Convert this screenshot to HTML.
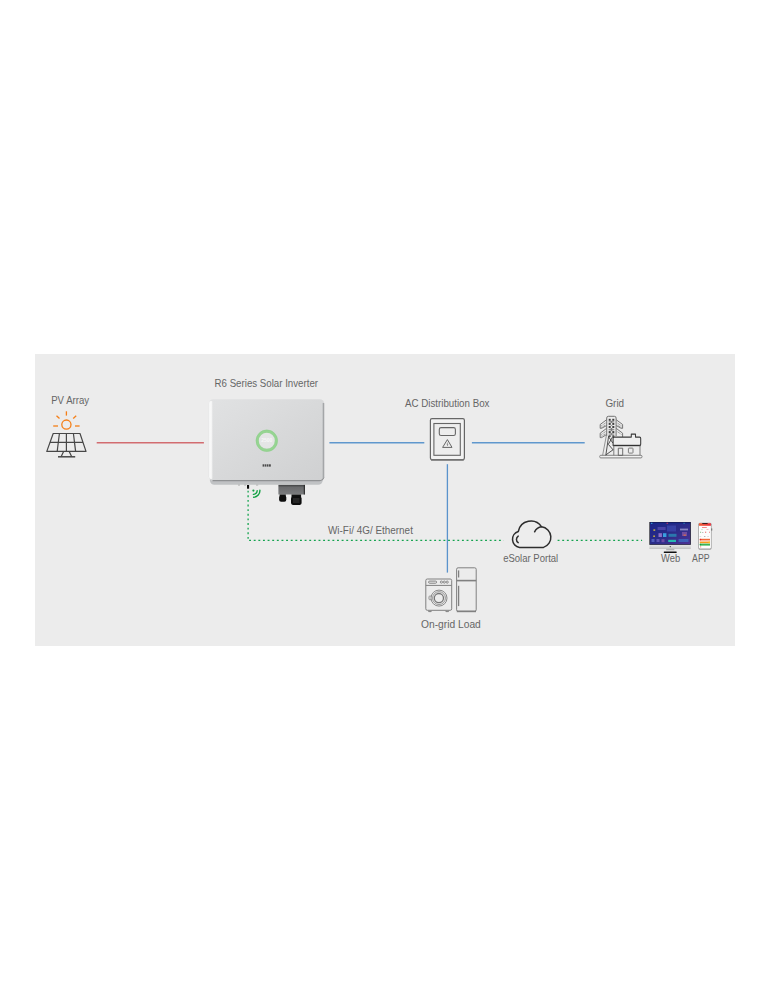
<!DOCTYPE html>
<html><head><meta charset="utf-8">
<style>
html,body{margin:0;padding:0;background:#fff;width:771px;height:1000px;overflow:hidden}
svg{position:absolute;left:0;top:0}
text{font-family:"Liberation Sans",sans-serif;font-size:10.5px;fill:#666}
</style></head><body>
<svg width="771" height="1000" viewBox="0 0 771 1000">
<rect x="35" y="354" width="700" height="292" fill="#ececec"/>

<!-- labels -->
<text x="70.15" y="404.2" text-anchor="middle" textLength="38" lengthAdjust="spacingAndGlyphs">PV Array</text>
<text x="266.3" y="386.6" text-anchor="middle" textLength="103.5" lengthAdjust="spacingAndGlyphs">R6 Series Solar Inverter</text>
<text x="447.2" y="407" text-anchor="middle" textLength="84.5" lengthAdjust="spacingAndGlyphs">AC Distribution Box</text>
<text x="614.75" y="406.6" text-anchor="middle" textLength="18.7" lengthAdjust="spacingAndGlyphs">Grid</text>
<text x="370.45" y="533.8" text-anchor="middle" textLength="84.9" lengthAdjust="spacingAndGlyphs">Wi-Fi/ 4G/ Ethernet</text>
<text x="530.7" y="561.9" text-anchor="middle" textLength="55" lengthAdjust="spacingAndGlyphs">eSolar Portal</text>
<text x="670.65" y="562.1" text-anchor="middle" textLength="19.1" lengthAdjust="spacingAndGlyphs">Web</text>
<text x="700.85" y="562.1" text-anchor="middle" textLength="17.5" lengthAdjust="spacingAndGlyphs">APP</text>
<text x="450.9" y="627.6" text-anchor="middle" textLength="59.8" lengthAdjust="spacingAndGlyphs">On-grid Load</text>

<!-- PV icon -->
<g fill="none" stroke="#f57f17" stroke-width="1.3" stroke-linecap="butt">
<circle cx="66.4" cy="424.6" r="4.6"/>
<line x1="66.4" y1="411.3" x2="66.4" y2="415.6"/>
<line x1="56.5" y1="415.8" x2="59.5" y2="418.6"/>
<line x1="76.2" y1="415.8" x2="73.2" y2="418.6"/>
<line x1="53.2" y1="426" x2="58" y2="426"/>
<line x1="75" y1="426" x2="79.6" y2="426"/>
</g>
<g fill="none" stroke="#474747" stroke-width="1.2" stroke-linejoin="round">
<path d="M53.2 433.5 H80 L86 451.4 H46.8 Z"/>
<line x1="49.9" y1="442.4" x2="83" y2="442.4"/>
<line x1="59.4" y1="433.5" x2="57.2" y2="451.4"/>
<line x1="66.4" y1="433.5" x2="66.4" y2="451.4"/>
<line x1="73.4" y1="433.5" x2="75.6" y2="451.4"/>
<path d="M63.6 451.4 L61.2 456.6 M69.2 451.4 L71.6 456.6"/>
<line x1="58" y1="456.8" x2="75.2" y2="456.8" stroke-width="1.5"/>
</g>

<!-- inverter -->
<defs>
<linearGradient id="face" x1="0" y1="0" x2="1" y2="1">
<stop offset="0" stop-color="#e1e2e3"/><stop offset="1" stop-color="#cfd0d1"/>
</linearGradient>
<linearGradient id="hl" x1="0" y1="0" x2="1" y2="0">
<stop offset="0" stop-color="#f4f5f5"/><stop offset="0.5" stop-color="#fafafa"/><stop offset="1" stop-color="#e2e3e4" stop-opacity="0"/>
</linearGradient>
<linearGradient id="cbox" x1="0" y1="0" x2="0" y2="1">
<stop offset="0" stop-color="#404142"/><stop offset="0.25" stop-color="#6a6b6d"/><stop offset="1" stop-color="#7b7c7e"/>
</linearGradient>
</defs>
<rect x="209.9" y="468" width="112.8" height="16.8" rx="4.5" fill="#c0c2c4"/>
<rect x="208.8" y="399.2" width="115.5" height="81.6" rx="4.5" fill="url(#face)"/>
<path d="M212.5 480.6 H319.5 Q323.2 480.6 323.8 477" fill="none" stroke="#8f9193" stroke-width="1.1"/>
<rect x="209" y="401" width="4.5" height="78" rx="2" fill="url(#hl)"/>
<rect x="322.7" y="403" width="1.5" height="75" fill="#a4a6a8"/>
<circle cx="266.8" cy="440.7" r="8" fill="#e4e5e5"/>
<circle cx="266.8" cy="440.7" r="9.5" fill="none" stroke="#96d492" stroke-width="2.9"/>
<circle cx="266.8" cy="440.7" r="10.8" fill="none" stroke="#86c882" stroke-width="0.4" opacity="0.7"/>
<text x="266.8" y="442" text-anchor="middle" style="font-size:5px;fill:#f7f7f7;font-weight:bold">2500</text>
<g fill="#333" opacity="0.85"><rect x="262.6" y="464.3" width="1.6" height="2.3"/><rect x="264.7" y="464.3" width="1.6" height="2.3"/><rect x="266.8" y="464.3" width="1.7" height="2.3"/><rect x="269" y="464.3" width="1.8" height="2.3"/></g>
<rect x="278.4" y="484.9" width="26.4" height="9.6" fill="url(#cbox)"/>
<rect x="303.8" y="484.9" width="1" height="9.6" fill="#1e1e1e"/>
<rect x="279.6" y="494.5" width="6.2" height="2" fill="#111"/>
<rect x="279.1" y="495.6" width="7.2" height="6.1" rx="2" fill="#0e0e0e"/>
<rect x="291.5" y="494.5" width="9.6" height="2.5" fill="#111"/>
<rect x="291" y="496.6" width="10.6" height="8.3" rx="1.8" fill="#0e0e0e"/>
<rect x="293" y="498" width="6.5" height="5" fill="#262626"/>
<rect x="247" y="485" width="2.1" height="3.7" fill="#0a0a0a"/>
<g fill="#8a8a8a" opacity="0.8"><rect x="238" y="484.8" width="2" height="0.6"/><rect x="244.3" y="484.8" width="1.6" height="0.6"/><rect x="256" y="484.8" width="2.2" height="0.6"/></g>
<circle cx="253.4" cy="490.6" r="1.1" fill="#12a243"/>
<path d="M257.2 490.6 A3.8 3.8 0 0 1 253.4 494.4 M259.9 490.3 A6.5 6.5 0 0 1 253.6 497.2" fill="none" stroke="#12a243" stroke-width="1.4" stroke-linecap="round"/>


<!-- AC box -->
<g fill="none" stroke="#666">
<rect x="430.4" y="418.7" width="34" height="41" rx="1.6" stroke-width="1.2" fill="#f2f2f2"/>
<line x1="431" y1="459.9" x2="463.8" y2="459.9" stroke-width="1.5" stroke="#777"/>
<rect x="433.9" y="423.5" width="26.4" height="31.8" stroke-width="1.1" fill="#ededed"/>
<rect x="439.3" y="427.6" width="16.1" height="7.9" rx="1.8" stroke-width="1.1"/>
<path d="M447.4 439.6 L452 447.4 H442.6 Z" stroke-width="1" stroke-linejoin="round"/>
<path d="M447.6 442.6 L447.1 444.6 L447.9 444.4 L447.3 446" stroke-width="0.6"/>
</g>


<!-- grid icon -->
<g fill="none" stroke="#5e5e5e" stroke-width="0.95" stroke-linejoin="round">
<rect x="599.7" y="455.3" width="42.3" height="2.6" rx="1.1" stroke="#7a7a7a" fill="#f1f1f1"/>
<path d="M606.7 436 V418 Q606.7 416.3 608.4 416.3 H614.4 Q616.1 416.3 616.1 418 V436" stroke="#6a6a6a"/>
<path d="M606.5 419.8 L600.2 424.5 V428.3 H601.6 L606.5 425.6 M616.3 419.8 L622.6 424.5 V428.3 H621.2 L616.3 425.6" stroke="#666" stroke-width="0.9"/>
<path d="M606.5 428.4 L600.2 433.2 V437.6 H601.6 L606.5 434.6 M616.3 428.4 L622.6 433.2 V437" stroke="#666" stroke-width="0.9"/>
<path d="M601.4 425.8 L605.8 422.8 M601.4 427.4 L605.8 425 M621.4 425.8 L617 422.8 M621.4 427.4 L617 425 M601.4 434.4 L605.8 431.4 M601.4 436.2 L605.8 433.6 M621.4 434.4 L617 431.4" stroke="#707070" stroke-width="0.85" stroke-dasharray="0.9 0.7"/>
<path d="M606.3 435.8 L602.6 455.4" stroke="#8a8a8a" stroke-width="0.9"/>
<path d="M608.7 435.8 L605.8 455.4 M612.6 436.9 L608.3 444.3 L613.3 450.1 M613.3 449.6 L606 454.8 M608.8 437 L612.8 443" stroke="#4a4a4a" stroke-width="0.95"/>
<path d="M613.1 445.5 V438.2 Q613.1 437.1 614.2 437.1 H631.3 V434.1 H635.5 V437.1 H639.6 Q640.7 437.1 640.7 438.4 V444.3 Q640.7 445.5 639.5 445.5 Z" fill="#efefef" stroke="#3a3a3a" stroke-width="1.05"/>
<line x1="613" y1="445.5" x2="640.6" y2="445.5" stroke-width="1.4" stroke="#333"/>
<path d="M613.8 445.6 V455.3 M640 445.6 V455.3" stroke="#777"/>
<rect x="618.3" y="448.2" width="4.4" height="7.2" stroke="#666"/>
<rect x="628.4" y="448.1" width="4.6" height="5" rx="0.6" stroke="#777"/>
</g>
<g fill="#3e3e3e">
<rect x="608.7" y="418.8" width="2" height="2"/><rect x="612.3" y="418.8" width="2" height="2"/>
<rect x="608.7" y="422.9" width="2" height="2"/><rect x="612.3" y="422.9" width="2" height="2"/>
<rect x="608.7" y="426" width="2" height="2"/><rect x="612.3" y="426" width="2" height="2"/>
<rect x="608.7" y="431.1" width="2" height="1.9"/><rect x="612.3" y="431.1" width="2" height="1.9"/>
<rect x="608.7" y="435.3" width="2" height="1.6"/><rect x="612.3" y="435.3" width="2" height="1.6"/>
</g>
<g fill="#7a7a7a">
<rect x="610.7" y="420.8" width="1.6" height="2.1"/><rect x="610.7" y="428" width="1.6" height="3.1"/><rect x="610.7" y="424.9" width="1.6" height="1.1" opacity="0.7"/><rect x="610.7" y="432.9" width="1.6" height="2.4" opacity="0.8"/>
<rect x="608.7" y="421.2" width="5.6" height="1.2" opacity="0.8"/><rect x="608.7" y="428.9" width="5.6" height="1.4" opacity="0.8"/><rect x="608.7" y="433.4" width="5.6" height="1.2" opacity="0.8"/>
</g>

<!-- cloud -->
<g fill="none" stroke="#2e2e2e" stroke-width="1.5" stroke-linecap="round">
<path d="M519.5 547.4 A8.17 8.17 0 0 1 518.3 531.5 A12.8 12.8 0 0 1 541.6 526.8 A10.6 10.6 0 0 1 543.5 547.4 Z" fill="#ededed"/>
<path d="M534.6 531.8 A9 9 0 0 1 541.6 526.8"/>
<path d="M518.2 536.1 A4 4 0 0 0 518.2 542.7"/>
</g>

<!-- monitor -->
<defs>
<linearGradient id="scr" x1="0" y1="0" x2="1" y2="1">
<stop offset="0" stop-color="#1a2488"/><stop offset="0.5" stop-color="#2a2c88"/><stop offset="1" stop-color="#4e3296"/>
</linearGradient>
<linearGradient id="chin" x1="0" y1="0" x2="0" y2="1">
<stop offset="0" stop-color="#e6e6e6"/><stop offset="0.6" stop-color="#d6d6d6"/><stop offset="1" stop-color="#b8b8b8"/>
</linearGradient>
</defs>
<rect x="649.4" y="522" width="41.4" height="22.9" fill="#0c0c18"/>
<rect x="650" y="522.6" width="40.2" height="21.7" fill="url(#scr)"/>
<rect x="650" y="522.6" width="40.2" height="1.2" fill="#1a2a8a"/>
<rect x="651" y="522.8" width="1.4" height="1" fill="#3ab0e0"/>
<rect x="666.5" y="522.8" width="1.6" height="0.9" fill="#e03060"/>
<rect x="683.5" y="522.8" width="1.2" height="0.9" fill="#30a0c0"/>
<rect x="653.4" y="529.4" width="1.8" height="1.4" fill="#d8c040"/>
<rect x="653.2" y="535.5" width="1.8" height="1.4" fill="#c8b040"/>
<rect x="657.6" y="527" width="8" height="3" fill="#6a5ac0" opacity="0.55"/>
<rect x="667" y="525.5" width="9" height="6" fill="#4a5ac8" opacity="0.45"/>
<rect x="658.5" y="533.2" width="3.4" height="3.8" fill="#8a70c8"/>
<rect x="663" y="533.2" width="3.4" height="3.8" fill="#38a0e0"/>
<rect x="668.5" y="533.8" width="8" height="3" fill="#2a90b8" opacity="0.75"/>
<rect x="682" y="532" width="5" height="4" fill="#8a5aa8" opacity="0.7"/>
<rect x="683.5" y="534.5" width="2.4" height="1.4" fill="#e07040" opacity="0.8"/>
<rect x="668.2" y="539.8" width="7.8" height="2.2" fill="#28b8b0"/>
<rect x="651.5" y="539" width="3" height="3" fill="#5a6ac8" opacity="0.8"/>
<rect x="656.5" y="539" width="3" height="3" fill="#6a60c0" opacity="0.8"/>
<rect x="661.5" y="539.2" width="3" height="3" fill="#8a5ab0" opacity="0.7"/>
<rect x="678.5" y="539" width="10" height="3" fill="#3a80d0" opacity="0.6"/>
<rect x="680" y="528.6" width="8" height="1.8" fill="#d0d0f0" opacity="0.55"/>
<rect x="649.4" y="544.9" width="41.4" height="3.9" fill="url(#chin)"/>
<circle cx="670.3" cy="546.6" r="0.7" fill="#444"/>
<rect x="666.2" y="548.8" width="8.1" height="1.5" fill="#b4b4b4"/>
<rect x="663.7" y="551.5" width="13.1" height="1.5" rx="0.7" fill="#111"/>

<!-- phone -->
<defs>
<linearGradient id="phd" x1="0" y1="0" x2="1" y2="0">
<stop offset="0" stop-color="#f0603a"/><stop offset="1" stop-color="#e8303a"/>
</linearGradient>
</defs>
<rect x="698.3" y="522.7" width="13.3" height="27" rx="1.6" fill="#9a9a9a"/>
<rect x="699" y="523.2" width="11.9" height="25.2" rx="1" fill="#fdfdfd"/>
<rect x="699" y="523.2" width="11.9" height="2.6" fill="url(#phd)"/>
<rect x="702" y="527.2" width="4.8" height="0.8" fill="#f07070"/>
<rect x="699.8" y="538.8" width="10.2" height="1.6" fill="#f26a3a"/>
<rect x="699.8" y="540.4" width="10.2" height="0.9" fill="#f6b0a0"/>
<rect x="699.8" y="541.6" width="10.2" height="1.6" fill="#fb9a1a"/>
<rect x="699.8" y="543.6" width="10.2" height="2" fill="#3ab454"/>
<rect x="700" y="546.4" width="1.2" height="1" fill="#f08080"/>
<rect x="711.4" y="528.4" width="0.8" height="2.2" fill="#555"/>
<rect x="702.1" y="523.1" width="5.7" height="0.8" rx="0.4" fill="#3a2020"/>
<rect x="700.2" y="531.7" width="0.9" height="1.2" fill="#7ac080"/>
<rect x="702" y="532" width="1.4" height="0.8" fill="#b0b0b0"/>
<rect x="705" y="531.6" width="1.2" height="1.4" fill="#f09090"/>
<rect x="709" y="531.6" width="1" height="1.4" fill="#f0a0a0"/>
<rect x="701.5" y="529.2" width="1" height="0.9" fill="#a0d0a0"/>
<rect x="706.5" y="529.2" width="2" height="0.8" fill="#f0b0b0"/>
<rect x="699.6" y="536.3" width="1.6" height="0.5" fill="#c0c0c0"/>
<rect x="704" y="536.3" width="1.4" height="0.6" fill="#888"/>
<rect x="707.2" y="536.3" width="1.8" height="0.5" fill="#c0c0c0"/>
<circle cx="700.5" cy="539.6" r="0.8" fill="#e82030"/>
<circle cx="700.5" cy="544.6" r="0.8" fill="#10a040"/>
<rect x="708.5" y="541.6" width="1.5" height="1.6" fill="#fcc020"/>

<!-- washer & fridge -->
<g fill="none" stroke="#808080" stroke-width="1">
<rect x="425.8" y="579" width="25.9" height="31.3" rx="1.5"/>
<line x1="425.8" y1="585.4" x2="451.7" y2="585.4"/>
<rect x="428.6" y="581.1" width="8" height="2.1" rx="1"/>
<circle cx="441.4" cy="582.1" r="1.1" stroke-width="0.9"/>
<circle cx="444.3" cy="582.1" r="1.1" stroke-width="0.9"/>
<circle cx="447.2" cy="582.1" r="1.1" stroke-width="0.9"/>
<circle cx="439" cy="598.1" r="8" stroke-width="1" stroke="#8a8a8a"/>
<circle cx="439" cy="598.1" r="6.4" stroke-width="0.9" stroke="#8a8a8a"/>
<circle cx="438.9" cy="598.1" r="4.6" stroke-width="1.3" stroke="#777"/>
<path d="M431.6 596.1 H429.7 Q429 596.1 429 596.8 V599 Q429 599.7 429.7 599.7 H431.4" stroke-width="0.9" stroke="#8a8a8a"/>
<path d="M428.6 610.8 V611.6 H431.2 V610.8 M445.9 610.8 V611.6 H448.5 V610.8" stroke-width="1"/>
<rect x="456.6" y="567.8" width="19.6" height="43.5" rx="1.5"/>
<line x1="456.6" y1="580.6" x2="476.2" y2="580.6" stroke-width="1.6"/>
<line x1="456.8" y1="611.4" x2="476" y2="611.4" stroke-width="1.6"/>
<line x1="458.6" y1="570.4" x2="458.6" y2="577.5" stroke-width="1.3"/>
<line x1="458.6" y1="585.8" x2="458.6" y2="606.1" stroke-width="1.3"/>
</g>

<!-- dotted green -->
<g fill="none" stroke="#14a34f" stroke-width="1.3" stroke-dasharray="1.9 2.727">
<path d="M248.1 490.65 V539.9"/>
<path d="M249.1 540.4 H503.7"/>
<path d="M557.6 540.4 H642.1" stroke-dasharray="1.9 2.733"/>
</g>

<!-- connection lines -->
<line x1="96.7" y1="442.7" x2="203.9" y2="442.7" stroke="#d26c70" stroke-width="1.4"/>
<line x1="329.4" y1="442.7" x2="424.3" y2="442.7" stroke="#5f97cd" stroke-width="1.4"/>
<line x1="471.9" y1="442.7" x2="584.7" y2="442.7" stroke="#5f97cd" stroke-width="1.4"/>
<line x1="447.4" y1="464.2" x2="447.4" y2="572.6" stroke="#5a93cc" stroke-width="1.3"/>

</svg>
</body></html>
